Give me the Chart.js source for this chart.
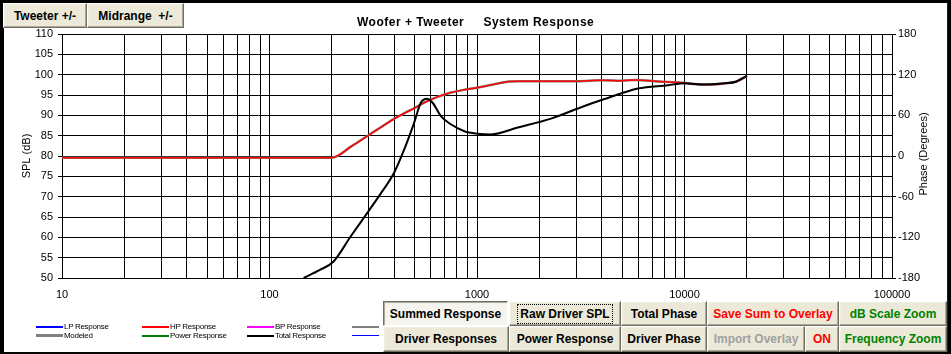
<!DOCTYPE html>
<html>
<head>
<meta charset="utf-8">
<script src="https://cdn.jsdelivr.net/npm/chart.js@4.4.1/dist/chart.umd.min.js"></script>
<style>
  body { margin: 0; background: #000; }
  #wrap { position: relative; width: 951px; height: 354px; background: #000; overflow: hidden;
          font-family: Arial, "Liberation Sans", sans-serif; }
  #paper { position: absolute; left: 4px; top: 3px; width: 943px; height: 349px; background: #fff;
           border-right: 1px solid #0000ff; }
  #canvas_grafico { position: absolute; left: 0; top: 0; }
  #titulo { position: absolute; left: 357px; top: 15px; font: bold 12px Arial, sans-serif;
            letter-spacing: 0.5px; white-space: pre; color: #000; }
  #titulo_fase { position: absolute; left: 864px; top: 147px; width: 120px; height: 14px; line-height: 14px;
                 text-align: center; font: 11px Arial, sans-serif; color: #000; transform: rotate(-90deg); }
  .btn { position: absolute; box-sizing: border-box; background: #ece9d8; color: #000;
         border: 1px solid; border-color: #fff #716f64 #716f64 #fff;
         box-shadow: inset -1px -1px #aca899, inset 1px 1px #f1efe2;
         font: bold 12px Arial, sans-serif; display: flex; align-items: center; justify-content: center;
         white-space: pre; }
  .btn.down { background: #f5f4ef; border-color: #716f64 #fff #fff #716f64;
              box-shadow: inset 1px 1px #aca899; }
  .btn.focus span { outline: 1px dotted #000; outline-offset: 2px; }
  .rojo { color: #ff0000; }
  .verde { color: #008000; }
  .gris { color: #a0a0a0; }
  #leyenda { position: absolute; left: 0; top: 0; }
  .ley { position: absolute; height: 9px; display: flex; align-items: center;
         font: 8px Arial, sans-serif; letter-spacing: -0.3px; color: #000; white-space: pre; }
  .ley i { display: inline-block; width: 27px; margin-right: 1px; }
</style>
</head>
<body>
<div id="wrap">
  <div id="paper"></div>
  <canvas id="canvas_grafico" width="951" height="354"></canvas>
  <div id="titulo">Woofer + Tweeter     System Response</div>
  <div id="titulo_fase">Phase (Degrees)</div>
  <div id="leyenda"></div>

  <div class="btn" style="left:3px;top:3px;width:84px;height:25px;">Tweeter +/-</div>
  <div class="btn" style="left:87px;top:3px;width:97px;height:25px;">Midrange  +/-</div>

  <div class="btn down" style="left:383px;top:301px;width:125px;height:25px;">Summed Response</div>
  <div class="btn focus" style="left:509px;top:301px;width:112px;height:25px;"><span>Raw Driver SPL</span></div>
  <div class="btn" style="left:621px;top:301px;width:86px;height:25px;">Total Phase</div>
  <div class="btn rojo" style="left:707px;top:301px;width:132px;height:25px;">Save Sum to Overlay</div>
  <div class="btn verde" style="left:839px;top:301px;width:108px;height:25px;">dB Scale Zoom</div>

  <div class="btn" style="left:383px;top:326px;width:126px;height:26px;">Driver Responses</div>
  <div class="btn" style="left:509px;top:326px;width:112px;height:26px;">Power Response</div>
  <div class="btn" style="left:621px;top:326px;width:86px;height:26px;">Driver Phase</div>
  <div class="btn gris" style="left:707px;top:326px;width:98px;height:26px;">Import Overlay</div>
  <div class="btn rojo" style="left:805px;top:326px;width:34px;height:26px;">ON</div>
  <div class="btn verde" style="left:839px;top:326px;width:108px;height:26px;">Frequency Zoom</div>
</div>

<script>
const canvas_grafico = document.getElementById("canvas_grafico");
const div_leyenda = document.getElementById("leyenda");

/* datos */
const hp_freq = [10, 200, 250, 300, 350, 400, 450, 500, 560, 650, 750, 850, 1000, 1200, 1430, 1600,
  2000, 3000, 4000, 5000, 5800, 7500, 9700, 12000, 14000, 15700, 17500, 20000];
const hp_spl = [79.6, 79.6, 82.5, 85.1, 87.3, 89.2, 90.6, 91.8, 93.2, 94.6, 95.6, 96.2, 96.8, 97.6, 98.3, 98.4,
  98.4, 98.4, 98.6, 98.5, 98.7, 98.3, 98.0, 97.6, 97.6, 97.9, 98.2, 99.7];

const total_freq = [146, 175, 203, 246, 296, 344, 398, 446, 498, 536, 573, 611, 670, 748, 869, 1000,
  1169, 1574, 2275, 3296, 4121, 5970, 8335, 10000, 12000, 15700, 17500, 20000];
const total_spl = [50, 52, 54.0, 60.2, 66.0, 70.8, 75.8, 81.6, 88.2, 93.1, 94.1, 93.1, 89.8, 87.8, 86.1, 85.5,
  85.3, 87.0, 89.2, 92.3, 94.0, 96.6, 97.4, 97.9, 97.6, 97.9, 98.2, 99.7];

/* lineas de la grilla en x y etiquetas */
const grid_freqs = [];
for (let dec = 10; dec < 100000; dec *= 10) {
  for (let k = 1; k < 10; k++) grid_freqs.push(dec * k);
}
grid_freqs.push(100000);
const freq_labels = [10, 100, 1000, 10000, 100000];

const spl_min = 50, spl_max = 110, spl_step = 5;
const phase_min = -180, phase_max = 180, phase_step = 60;

const leyenda_items = [
  { label: "LP Response", color: "#0000ff", width: 2, col: 0, row: 0 },
  { label: "Modeled", color: "#808080", width: 3, col: 0, row: 1 },
  { label: "HP Response", color: "#ff0000", width: 2, col: 1, row: 0 },
  { label: "Power Response", color: "#008000", width: 2, col: 1, row: 1 },
  { label: "BP Response", color: "#ff00ff", width: 2, col: 2, row: 0 },
  { label: "Total Response", color: "#000000", width: 2, col: 2, row: 1 },
  { label: "", color: "#808080", width: 2, col: 3, row: 0 },
  { label: "", color: "#0000ff", width: 1, col: 3, row: 1 },
];
const leyenda_x = [36, 142, 247, 352];
const leyenda_y = [322, 331];

function puntos(xs, ys) {
  return xs.map((x, i) => ({ x: x, y: ys[i] }));
}

/* leyenda en html */
function renderLeyenda() {
  leyenda_items.forEach((item) => {
    const div = document.createElement("div");
    div.className = "ley";
    div.style.left = leyenda_x[item.col] + "px";
    div.style.top = leyenda_y[item.row] + "px";
    div.innerHTML = `<i style="height:${item.width}px;background:${item.color}"></i>${item.label}`;
    div_leyenda.appendChild(div);
  });
}

function renderGrafico() {
  const fuente = { family: "Arial, 'Liberation Sans', sans-serif", size: 11 };
  const config = {
    type: "line",
    data: {
      datasets: [
        {
          label: "Total Response",
          data: puntos(total_freq, total_spl),
          borderColor: "#000000",
          borderWidth: 2,
          cubicInterpolationMode: "monotone",
          order: 1,
        },
        {
          label: "HP Response",
          data: puntos(hp_freq, hp_spl),
          borderColor: "#ff0000",
          borderWidth: 1.5,
          cubicInterpolationMode: "monotone",
          order: 2,
        },
        {
          label: "Modeled",
          data: puntos(hp_freq, hp_spl),
          borderColor: "#808080",
          borderWidth: 2.5,
          cubicInterpolationMode: "monotone",
          order: 3,
        },
      ],
    },
    options: {
      responsive: false,
      animation: false,
      layout: { padding: { top: 34, left: 0, right: 0, bottom: 0 } },
      elements: { point: { radius: 0 } },
      plugins: { legend: { display: false }, tooltip: { enabled: false } },
      scales: {
        x: {
          type: "logarithmic",
          position: "bottom",
          min: 10,
          max: 100000,
          afterBuildTicks: (scale) => {
            scale.ticks = grid_freqs.map((v) => ({ value: v }));
          },
          afterFit: (scale) => { scale.height = 76; },
          ticks: {
            autoSkip: false,
            maxRotation: 0,
            padding: 10,
            color: "#000",
            font: fuente,
            callback: (value) => (freq_labels.includes(value) ? String(value) : ""),
          },
          grid: { color: "#000", lineWidth: 1, drawTicks: false },
          border: { color: "#000" },
        },
        y: {
          type: "linear",
          position: "left",
          min: spl_min,
          max: spl_max,
          afterFit: (scale) => { scale.width = 62; },
          ticks: { stepSize: spl_step, padding: 5, color: "#000", font: fuente },
          grid: { color: "#000", lineWidth: 1, tickLength: 4 },
          border: { color: "#000" },
          title: { display: true, text: "SPL (dB)", color: "#000", font: fuente, padding: { top: 20, bottom: 0 } },
        },
        y2: {
          type: "linear",
          position: "right",
          min: phase_min,
          max: phase_max,
          afterFit: (scale) => { scale.width = 59; },
          ticks: { stepSize: phase_step, padding: 2, color: "#000", font: fuente },
          grid: { drawOnChartArea: false, color: "#000", tickLength: 4 },
          border: { color: "#000" },
        },
      },
    },
  };
  new Chart(canvas_grafico, config);
}

renderLeyenda();
renderGrafico();
</script>
</body>
</html>
